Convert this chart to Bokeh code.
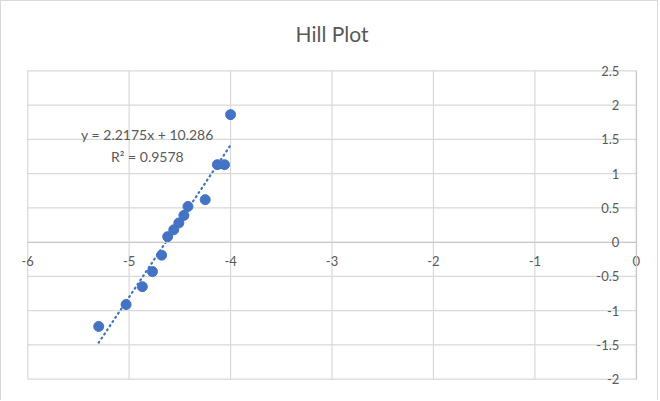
from bokeh.plotting import figure
from bokeh.models import LinearAxis, FixedTicker, Range1d, Label
from bokeh.embed import file_html
from bokeh.resources import INLINE

# Data
log_conc = [-5.30, -5.03, -4.87, -4.77, -4.68, -4.62, -4.56, -4.51, -4.46, -4.42, -4.25, -4.13, -4.06, -4.00]
log_ratio = [-1.23, -0.91, -0.65, -0.43, -0.19, 0.08, 0.18, 0.28, 0.39, 0.52, 0.62, 1.13, 1.13, 1.86]
slope = 2.2175
intercept = 10.286
r_squared = 0.9578

x_ticks = [-6, -5, -4, -3, -2, -1, 0]
x_tick_labels = ["-6", "-5", "-4", "-3", "-2", "-1", "0"]
y_ticks = [-2, -1.5, -1, -0.5, 0, 0.5, 1, 1.5, 2, 2.5]
y_tick_labels = ["-2", "-1.5", "-1", "-0.5", "0", "0.5", "1", "1.5", "2", "2.5"]

FONT = "Lato"
TXT = "#595959"
GRID = "#d9d9d9"
AXIS = "#c8c8c8"
BLUE = "#4472C4"

xmin, xmax = x_ticks[0], x_ticks[-1]
ymin, ymax = y_ticks[0], y_ticks[-1]
PADX, PADY = 0.15, 0.15

p = figure(width=658, height=400,
           x_range=Range1d(xmin - PADX, xmax + PADX), y_range=Range1d(ymin - PADY, ymax + PADY),
           x_axis_location=None, y_axis_location=None,
           min_border_left=11, min_border_right=8, min_border_top=59, min_border_bottom=12,
           output_backend="svg", toolbar_location=None, outline_line_color=None)
p.styles = {"border-left": "1px solid #d9d9d9", "border-right": "1px solid #d9d9d9",
            "border-top": "1px solid #d9d9d9"}
p.xgrid.visible = False
p.ygrid.visible = False

p.title.text = "Hill Plot"
p.title.align = "center"
p.title.text_font = FONT
p.title.text_font_size = "21px"
p.title.text_font_style = "normal"
p.title.text_color = TXT
p.title.standoff = 29

# Gridlines bounded to the plotted area
p.segment(x0=x_ticks, y0=[ymin] * len(x_ticks), x1=x_ticks, y1=[ymax] * len(x_ticks),
          line_color=GRID, line_width=1.2)
p.segment(x0=[xmin] * len(y_ticks), y0=y_ticks, x1=[xmax] * len(y_ticks), y1=y_ticks,
          line_color=GRID, line_width=1.2)

xaxis = LinearAxis(fixed_location=0, bounds=(xmin, xmax), ticker=FixedTicker(ticks=x_ticks),
                   major_label_overrides={float(t): l for t, l in zip(x_ticks, x_tick_labels)},
                   axis_line_color=AXIS, axis_line_width=1.2,
                   major_tick_line_color=None, minor_tick_line_color=None,
                   major_label_text_color=TXT, major_label_text_font=FONT,
                   major_label_text_font_size="13px", major_label_standoff=8)
p.add_layout(xaxis, "below")

yaxis = LinearAxis(fixed_location=0, bounds=(ymin, ymax), ticker=FixedTicker(ticks=y_ticks),
                   major_label_overrides={float(t): l for t, l in zip(y_ticks, y_tick_labels)},
                   axis_line_color=AXIS, axis_line_width=1.2,
                   major_tick_line_color=None, minor_tick_line_color=None,
                   major_label_text_color=TXT, major_label_text_font=FONT,
                   major_label_text_font_size="13px", major_label_standoff=11)
p.add_layout(yaxis, "left")

# Linear trendline over the data range
x0, x1 = min(log_conc), max(log_conc)
p.line([x0, x1], [slope * x0 + intercept, slope * x1 + intercept],
       line_color=BLUE, line_width=2.2, line_dash="1 4", line_cap="round")

p.scatter(log_conc, log_ratio, size=10, fill_color=BLUE, line_color=BLUE)

p.add_layout(Label(x=-4.82, y=1.566, text=f"y = {slope}x + {intercept}", text_align="center",
                   text_baseline="middle", text_font=FONT, text_font_size="14px", text_color=TXT))
p.add_layout(Label(x=-4.82, y=1.245, text=f"R² = {r_squared}", text_align="center",
                   text_baseline="middle", text_font=FONT, text_font_size="14px", text_color=TXT))

open("out.html", "w").write(file_html(p, INLINE))
